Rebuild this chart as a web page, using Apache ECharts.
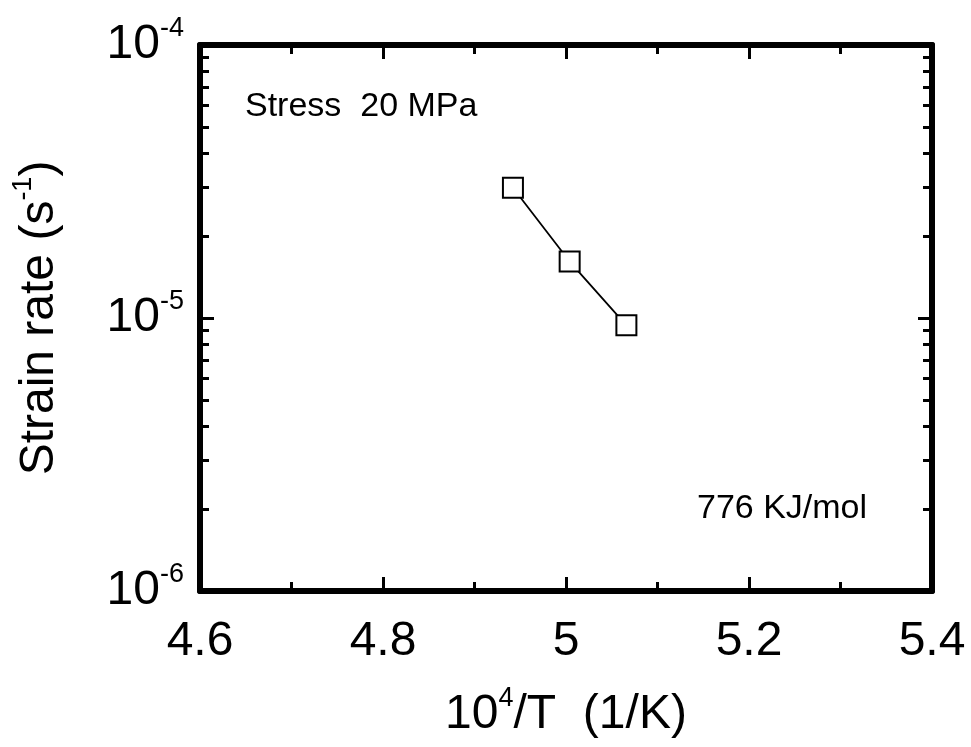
<!DOCTYPE html>
<html>
<head>
<meta charset="utf-8">
<script src="https://cdn.jsdelivr.net/npm/echarts@6/dist/echarts.min.js"></script>
<style>
  html, body { margin: 0; padding: 0; background: #fff; }
  #chart { width: 971px; height: 747px; }
</style>
</head>
<body>
<div id="chart"></div>
<script>
// data
const invTemp = [4.942, 5.004, 5.066]        // 10^4/T (1/K)
const strainRate = [3.0e-5, 1.61e-5, 9.4e-6] // s^-1

// axis setup
const xRange = [4.6, 5.4]
const xStep = 0.2
const yDecades = [-6, -5, -4]
const minorMantissas = [2, 3, 4, 5, 6, 7, 8, 9]

const FONT = 'Liberation Sans'

const chart = echarts.init(document.getElementById('chart'))

const minorLogs = []
yDecades.slice(0, -1).forEach(d => {
  minorMantissas.forEach(m => minorLogs.push(d + Math.log10(m)))
})

const frameLine = {show: true, onZero: false, lineStyle: {color: '#000', width: 6}}
const majorTick = {show: true, inside: true, length: 14, lineStyle: {color: '#000', width: 3}}
const minorTick = {show: true, inside: true, length: 9, lineStyle: {color: '#000', width: 3}}

const supRich = {
  b: {fontSize: 48, fontFamily: FONT, color: '#000', lineHeight: 60},
  s: {fontSize: 27, fontFamily: FONT, color: '#000', verticalAlign: 'top', lineHeight: 24}
}

const xAxisBase = {
  type: 'value',
  min: xRange[0],
  max: xRange[1],
  interval: xStep,
  axisLine: frameLine,
  axisTick: majorTick,
  minorTick: {show: true, splitNumber: 2, length: 9, lineStyle: {color: '#000', width: 3}},
  splitLine: {show: false},
  minorSplitLine: {show: false}
}

const logAxisBase = {
  type: 'log',
  logBase: 10,
  min: Math.pow(10, yDecades[0]),
  max: Math.pow(10, yDecades[yDecades.length - 1]),
  axisLine: frameLine,
  axisTick: majorTick,
  splitLine: {show: false}
}

const minorAxisBase = {
  type: 'value',
  min: yDecades[0],
  max: yDecades[yDecades.length - 1],
  axisLine: {show: false},
  axisLabel: {show: false},
  axisTick: Object.assign({}, minorTick, {customValues: minorLogs}),
  splitLine: {show: false}
}

const option = {
  animation: false,
  backgroundColor: '#fff',
  grid: {left: 200, right: 39, top: 45, bottom: 156, containLabel: false, outerBoundsMode: 'none'},
  xAxis: [
    Object.assign({}, xAxisBase, {
      position: 'bottom',
      name: '{b|10}{s|4}{b|/T  (1/K)}',
      nameLocation: 'middle',
      nameGap: 94,
      nameTextStyle: {rich: supRich},
      axisLabel: {margin: 27, fontSize: 48, fontFamily: FONT, color: '#000'}
    }),
    Object.assign({}, xAxisBase, {position: 'top', axisLabel: {show: false}})
  ],
  yAxis: [
    Object.assign({}, logAxisBase, {
      position: 'left',
      name: '{b|Strain rate (s}{s|-1}{b|)}',
      nameLocation: 'middle',
      nameRotate: 90,
      nameGap: 130,
      nameTextStyle: {rich: supRich},
      axisLabel: {
        margin: 16,
        formatter: v => '{b|10}{s|' + Math.round(Math.log10(v)) + '}',
        rich: supRich
      }
    }),
    Object.assign({}, logAxisBase, {position: 'right', axisLabel: {show: false}}),
    Object.assign({}, minorAxisBase, {position: 'left'}),
    Object.assign({}, minorAxisBase, {position: 'right'})
  ],
  graphic: [
    {type: 'text', left: 245, top: 90, style: {text: 'Stress  20 MPa', font: '34px "Liberation Sans"', fill: '#000'}},
    {type: 'text', left: 697, top: 492, style: {text: '776 KJ/mol', font: '34px "Liberation Sans"', fill: '#000'}}
  ],
  series: [
    {
      type: 'line',
      xAxisIndex: 0,
      yAxisIndex: 0,
      data: invTemp.map((x, i) => [x, strainRate[i]]),
      symbol: 'rect',
      symbolSize: 20,
      itemStyle: {color: '#fff', borderColor: '#000', borderWidth: 2},
      lineStyle: {color: '#000', width: 1.8},
      z: 5
    }
  ]
}

chart.setOption(option)
</script>
</body>
</html>
